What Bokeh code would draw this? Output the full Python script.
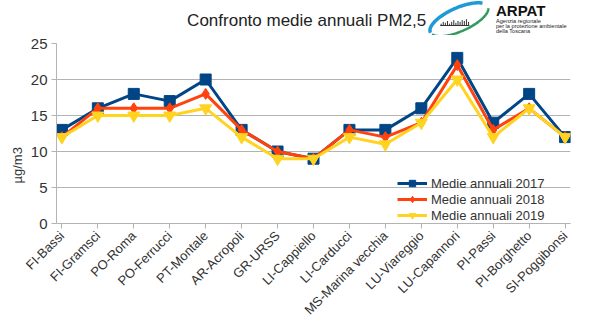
import numpy as np
from bokeh.plotting import figure
from bokeh.layouts import column
from bokeh.models import Range1d, FixedTicker, Legend, LegendItem, Title
from bokeh.core.properties import value
from bokeh.embed import file_html
from bokeh.resources import INLINE

stations = ["FI-Bassi", "FI-Gramsci", "PO-Roma", "PO-Ferrucci", "PT-Montale",
            "AR-Acropoli", "GR-URSS", "LI-Cappiello", "LI-Carducci",
            "MS-Marina vecchia", "LU-Viareggio", "LU-Capannori", "PI-Passi",
            "PI-Borghetto", "SI-Poggibonsi"]
medie_2017 = [13, 16, 18, 17, 20, 13, 10, 9, 13, 13, 16, 23, 14, 18, 12]
medie_2018 = [12, 16, 16, 16, 18, 13, 10, 9, 13, 12, 14, 22, 13, 16, 12]
medie_2019 = [12, 15, 15, 15, 16, 12, 9, 9, 12, 11, 14, 20, 12, 16, 12]
y_ticks = [0, 5, 10, 15, 20, 25]
title_text = "Confronto medie annuali PM2,5"
y_label = "µg/m3"
logo_name = "ARPAT"
logo_lines = ["Agenzia regionale", "per la protezione ambientale", "della Toscana"]

FONT = "Liberation Sans"
W, H = 600, 327
TOP_H = 35


# ---------------- header (title + logo) ----------------
h = figure(width=W, height=TOP_H, output_backend="svg", toolbar_location=None,
           x_range=Range1d(0, W), y_range=Range1d(TOP_H, 0),
           min_border=0, min_border_left=0, min_border_right=0,
           min_border_top=0, min_border_bottom=0)
h.axis.visible = False
h.grid.visible = False
h.outline_line_color = None
h.background_fill_color = "white"
h.border_fill_color = "white"

h.text(x=[292], y=[20], text=[title_text], text_font=value(FONT),
       text_font_size="17px", text_color="#222222", text_align="center",
       text_baseline="middle")
h.text(x=[513], y=[10], text=[logo_name], text_font=value(FONT),
       text_font_style="bold", text_font_size="15px", text_color="#111111",
       text_align="left", text_baseline="middle")
h.text(x=[513] * 3, y=[20.5, 25.5, 30.5], text=logo_lines, text_font=value(FONT),
       text_font_size="5.6px", text_color="#222222", text_align="left",
       text_baseline="middle")

# logo swooshes (decoration only)
cx, cy, rx, ry, tilt = 470.0, 19.0, 36.0, 12.0, np.radians(20)


def arc(t0, t1):
    t = np.radians(np.linspace(t0, t1, 60))
    ex, ey = rx * np.cos(t), ry * np.sin(t)
    xs = cx + ex * np.cos(tilt) - ey * np.sin(tilt)
    ys = cy - (ex * np.sin(tilt) + ey * np.cos(tilt))
    return xs, ys


bx, by = arc(30, 185)
h.line(bx, by, line_color="#1e9bd7", line_width=3.5)
gx, gy = arc(195, 355)
h.line(gx, gy, line_color="#2e9a5c", line_width=2.5)
bar_x = np.linspace(449, 481, 14)
bar_top = 25 - np.array([2, 4, 3, 5, 2, 4, 6, 3, 5, 4, 6, 5, 7, 4]) * 0.9
h.segment(x0=bar_x, y0=np.full_like(bar_x, 25), x1=bar_x, y1=bar_top,
          line_color="#333333", line_width=1)
h.line([448, 482], [25, 25], line_color="#333333", line_width=1)

# ---------------- main chart ----------------
MAIN_H = H - TOP_H
x = list(range(len(stations)))
pad = 0.15

p = figure(width=W, height=MAIN_H, output_backend="svg",
           toolbar_location=None,
           x_range=Range1d(-pad, len(stations) - 1 + pad), y_range=Range1d(0, 25),
           min_border_left=56, min_border_right=30, min_border_top=8,
           min_border_bottom=104)
p.outline_line_color = None
p.background_fill_color = "white"
p.border_fill_color = "white"

p.xaxis.ticker = FixedTicker(ticks=x)
p.xaxis.major_label_overrides = {i: s for i, s in enumerate(stations)}
p.xaxis.major_label_orientation = np.pi / 4
p.xaxis.major_label_text_font = FONT
p.xaxis.major_label_text_font_size = "13px"
p.xaxis.major_label_text_color = "#333333"
p.xaxis.major_tick_out = 5
p.xaxis.major_tick_in = 0
p.xaxis.minor_tick_out = 0
p.xaxis.axis_line_color = "#b3b3b3"
p.xaxis.major_tick_line_color = "#b3b3b3"

p.yaxis.ticker = FixedTicker(ticks=y_ticks)
p.yaxis.major_label_text_font = FONT
p.yaxis.major_label_text_font_size = "15px"
p.yaxis.major_label_text_color = "#333333"
p.yaxis.major_label_standoff = 4
p.yaxis.major_tick_out = 5
p.yaxis.major_tick_in = 0
p.yaxis.minor_tick_out = 0
p.yaxis.axis_line_color = "#b3b3b3"
p.yaxis.major_tick_line_color = "#b3b3b3"

# y-axis title as a side-panel Title (rotated)
p.add_layout(Title(text=y_label, align="left", offset=40,
                   text_font=FONT, text_font_size="13px",
                   text_font_style="normal", text_color="#333333",
                   standoff=6), "left")

p.xgrid.grid_line_color = None
p.ygrid.grid_line_color = "#b3b3b3"

series = [
    ("Medie annuali 2017", medie_2017, "#004586", "square", 11),
    ("Medie annuali 2018", medie_2018, "#ff420e", "diamond", 11),
    ("Medie annuali 2019", medie_2019, "#ffd320", "inverted_triangle", 12),
]
items = []
for name, vals, col, mk, sz in series:
    r1 = p.line(x, vals, line_color=col, line_width=3)
    r2 = p.scatter(x, vals, marker=mk, size=sz, fill_color=col, line_color=col)
    items.append(LegendItem(label=name, renderers=[r1, r2]))

legend = Legend(items=items, location=(341, 0), orientation="vertical",
                glyph_width=30, glyph_height=16, label_standoff=4, spacing=0,
                padding=0, margin=0, border_line_color=None,
                background_fill_alpha=0,
                label_text_font=FONT, label_text_font_size="13px",
                label_text_color="#333333", label_height=16)
p.add_layout(legend, "center")

layout = column(h, p, spacing=0)
open("out.html", "w").write(file_html(layout, INLINE))
